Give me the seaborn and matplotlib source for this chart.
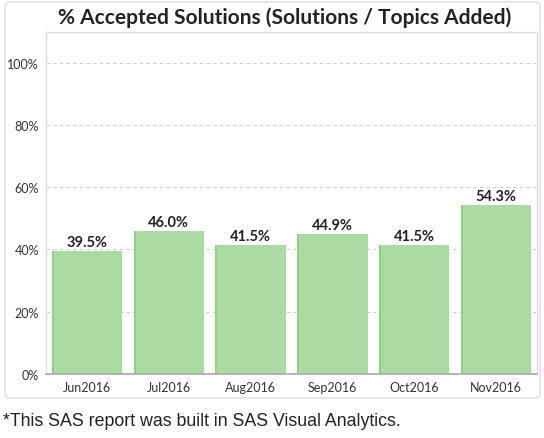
import matplotlib
matplotlib.use("Agg")
import matplotlib.pyplot as plt
import seaborn as sns
import pandas as pd
from matplotlib.patches import FancyBboxPatch, Rectangle
from matplotlib.ticker import FuncFormatter

months = ["Jun2016", "Jul2016", "Aug2016", "Sep2016", "Oct2016", "Nov2016"]
values = [39.5, 46.0, 41.5, 44.9, 41.5, 54.3]
yticks = [0, 20, 40, 60, 80, 100]

df = pd.DataFrame({"month": months, "pct": values})

sns.set_theme(style="white")
plt.rcParams["font.family"] = ["Lato", "DejaVu Sans"]

fig = plt.figure(figsize=(5.44, 4.39), dpi=100)
ax = fig.add_axes([46/544, 1-375/439, (537-46)/544, (375-33)/439])

sns.barplot(data=df, x="month", y="pct", color="#abdba2", width=0.86,
            saturation=1, ax=ax, edgecolor="none")

# darker left stripe on each bar
for p in list(ax.patches):
    ax.add_patch(Rectangle((p.get_x(), 0), 0.025, p.get_height(),
                           facecolor="#92cf88", edgecolor="none", zorder=p.get_zorder() + 0.1))

ax.set_ylim(0, 109.8)
ax.set_xlim(-0.5, 5.5)
ax.set_yticks(yticks)
ax.yaxis.set_major_formatter(FuncFormatter(lambda v, p: f"{int(v)}%"))
ax.grid(axis="y", color="#cccccc", linestyle=(0, (3, 3)), linewidth=0.8)
ax.set_axisbelow(True)
ax.set_xlabel("")
ax.set_ylabel("")
for s in ["top", "right", "left"]:
    ax.spines[s].set_color("#dddddd")
    ax.spines[s].set_linewidth(1)
ax.spines["bottom"].set_color("#aaaaaa")
ax.tick_params(axis="both", labelsize=9, colors="#333333", length=3, width=0.8)
ax.tick_params(axis="x", color="#aaaaaa", pad=2)
ax.tick_params(axis="y", color="#cccccc", pad=2)

for i, v in enumerate(values):
    ax.text(i, v + 0.6, f"{v:.1f}%", ha="center", va="bottom",
            fontsize=10.5, fontweight="bold", color="#222222")

fig.text(285/544, 1-18/439, "% Accepted Solutions (Solutions / Topics Added)",
         ha="center", va="center", fontsize=15, fontweight="bold", color="#222222")

panel = FancyBboxPatch((5/544, 1-399/439), 535/544, 396/439,
                       boxstyle="round,pad=0,rounding_size=0.01",
                       transform=fig.transFigure, facecolor="none",
                       edgecolor="#dddddd", linewidth=1, zorder=0)
fig.patches.append(panel)

fig.text(3/544, 1-422/439, "*This SAS report was built in SAS Visual Analytics.",
         ha="left", va="center", fontsize=12.8, color="#222222",
         family=["Liberation Sans", "DejaVu Sans"])

fig.savefig("out.png", dpi=100)
